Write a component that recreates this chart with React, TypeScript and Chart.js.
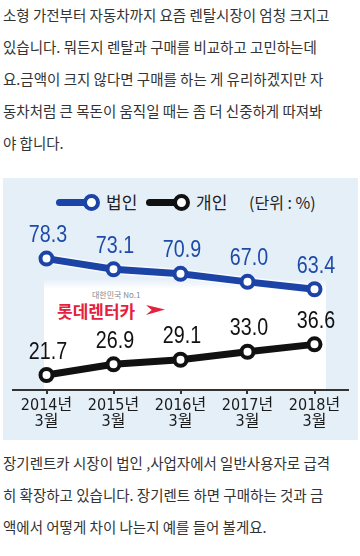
import React, { useEffect, useRef } from 'react';
import { Chart, registerables } from 'chart.js';

Chart.register(...registerables);

const years = ['2014년', '2015년', '2016년', '2017년', '2018년'];
const months = ['3월', '3월', '3월', '3월', '3월'];
const corporate = [78.3, 73.1, 70.9, 67.0, 63.4];
const individual = [21.7, 26.9, 29.1, 33.0, 36.6];
const seriesNames = ['법인', '개인'];
const unitLabel = '(단위 : %)';
const logoSub = '대한민국 No.1';
const logoMain = '롯데렌터카';

const topParagraph = [
  '소형 가전부터 자동차까지 요즘 렌탈시장이 엄청 크지고',
  '있습니다. 뭐든지 렌탈과 구매를 비교하고 고민하는데',
  '요.금액이 크지 않다면 구매를 하는 게 유리하겠지만 자',
  '동차처럼 큰 목돈이 움직일 때는 좀 더 신중하게 따져봐',
  '야 합니다.',
];
const bottomParagraph = [
  '장기렌트카 시장이 법인 ,사업자에서 일반사용자로 급격',
  '히 확장하고 있습니다. 장기렌트 하면 구매하는 것과 금',
  '액에서 어떻게 차이 나는지 예를 들어 볼게요.',
];

const BLUE = '#1c43a6';
const BLUE_LABEL = '#1f4ba8';
const BLACK = '#111111';
const BOX_BG = '#e5eff8';
const KR = '"Noto Sans CJK KR", "Noto Sans", sans-serif';
const NARROW = '"Liberation Sans Narrow", "DejaVu Sans Condensed", "Liberation Sans", "Noto Sans CJK KR", sans-serif';

const haloLines = {
  id: 'haloLines',
  beforeDatasetsDraw(chart: any) {
    const ctx = chart.ctx;
    chart.data.datasets.forEach((_ds: any, i: number) => {
      const pts = chart.getDatasetMeta(i).data;
      ctx.save();
      ctx.strokeStyle = 'rgba(255,255,255,0.7)';
      ctx.lineWidth = 10;
      ctx.lineJoin = 'round';
      ctx.beginPath();
      pts.forEach((p: any, j: number) => (j ? ctx.lineTo(p.x, p.y) : ctx.moveTo(p.x, p.y)));
      ctx.stroke();
      ctx.restore();
    });
  },
};

const valueLabels = {
  id: 'valueLabels',
  afterDatasetsDraw(chart: any) {
    const ctx = chart.ctx;
    chart.data.datasets.forEach((ds: any, i: number) => {
      const meta = chart.getDatasetMeta(i);
      meta.data.forEach((pt: any, j: number) => {
        ctx.save();
        ctx.translate(pt.x + 1.5, pt.y - 23);
        ctx.scale(0.82, 1);
        ctx.font = '24px "Liberation Sans", Arial, sans-serif';
        ctx.fillStyle = ds.labelColor;
        ctx.textAlign = 'center';
        ctx.textBaseline = 'middle';
        ctx.fillText(Number(ds.data[j]).toFixed(1), 0, 0);
        ctx.restore();
      });
    });
  },
};

function LegendItem({ color, x, text }: { color: string; x: number; text: string }) {
  return (
    <>
      <div style={{ position: 'absolute', left: x, top: 198.5, width: 36, height: 7, borderRadius: 4, background: color }} />
      <div style={{ position: 'absolute', left: x + 27, top: 193.5, width: 9, height: 9, border: `4px solid ${color}`, borderRadius: '50%', background: '#fff' }} />
      <div style={{ position: 'absolute', left: x + 50, top: 190, height: 24, lineHeight: '24px', fontSize: 17, fontFamily: KR, color: '#222', whiteSpace: 'nowrap' }}>{text}</div>
    </>
  );
}

export default function App() {
  const canvasRef = useRef<HTMLCanvasElement | null>(null);

  useEffect(() => {
    document.body.style.margin = '0';
    const canvas = canvasRef.current;
    if (!canvas) return;
    const chart = new Chart(canvas, {
      type: 'line',
      data: {
        labels: years.map((y, i) => [y, months[i]]),
        datasets: [
          {
            label: seriesNames[0],
            data: corporate,
            borderColor: BLUE,
            borderWidth: 7,
            pointRadius: 6,
            pointBorderWidth: 4,
            pointBackgroundColor: '#ffffff',
            pointBorderColor: BLUE,
            tension: 0,
            labelColor: BLUE_LABEL,
          } as any,
          {
            label: seriesNames[1],
            data: individual,
            borderColor: BLACK,
            borderWidth: 7,
            pointRadius: 6,
            pointBorderWidth: 4,
            pointBackgroundColor: '#ffffff',
            pointBorderColor: BLACK,
            tension: 0,
            labelColor: BLACK,
          } as any,
        ],
      },
      options: {
        animation: false,
        responsive: false,
        devicePixelRatio: 1,
        layout: { padding: { left: 5.4, right: 3.4, top: 36, bottom: 0 } },
        plugins: { legend: { display: false }, tooltip: { enabled: false } },
        scales: {
          x: {
            type: 'category',
            offset: true,
            grid: { display: true, drawOnChartArea: false, drawTicks: true, tickLength: 4, color: '#333', lineWidth: 2 },
            border: { display: true, color: '#333', width: 2 },
            ticks: { color: '#1a1a1a', padding: 4, maxRotation: 0, font: { family: NARROW, size: 16, lineHeight: 1.0 } },
            afterFit: (scale: any) => { scale.height = 50; },
          },
          y: { display: false, min: 14.4, max: 100 },
        },
      },
      plugins: [haloLines, valueLabels],
    });
    return () => chart.destroy();
  }, []);

  return (
    <div style={{ position: 'relative', width: 360, height: 556, background: '#fff', overflow: 'hidden', fontFamily: KR }}>
      <div style={{ position: 'absolute', left: 3, top: -1, fontSize: 14.5, lineHeight: '32px', color: '#333' }}>
        {topParagraph.map((t, i) => (
          <div key={i} style={{ whiteSpace: 'nowrap' }}>{t}</div>
        ))}
      </div>

      <div style={{ position: 'absolute', left: 3, top: 178, width: 355, height: 262, background: BOX_BG }} />
      <div style={{ position: 'absolute', left: 44, top: 279, width: 282, height: 111, background: 'linear-gradient(to bottom, rgba(255,255,255,0) 0px, #ffffff 10px)' }} />
      <div style={{ position: 'absolute', left: 92, top: 290, fontSize: 8, lineHeight: '10px', color: '#888', whiteSpace: 'nowrap' }}>{logoSub}</div>
      <div style={{ position: 'absolute', left: 57, top: 300, fontSize: 17, fontWeight: 700, lineHeight: '22px', color: '#e5213d', whiteSpace: 'nowrap' }}>{logoMain}</div>
      <div style={{ position: 'absolute', left: 146, top: 305, width: 19, height: 10, background: '#e5213d', clipPath: 'polygon(0 0, 100% 45%, 0 100%, 30% 50%)' }} />

      <LegendItem color={BLUE} x={56} text={seriesNames[0]} />
      <LegendItem color={BLACK} x={146} text={seriesNames[1]} />
      <div style={{ position: 'absolute', left: 249, top: 190, height: 24, lineHeight: '24px', fontSize: 16, color: '#222', whiteSpace: 'nowrap' }}>{unitLabel}</div>

      <canvas ref={canvasRef} width={355} height={262} style={{ position: 'absolute', left: 3, top: 178, width: 355, height: 262 }} />

      <div style={{ position: 'absolute', left: 3, top: 447, fontSize: 14.5, lineHeight: '32px', color: '#333' }}>
        {bottomParagraph.map((t, i) => (
          <div key={i} style={{ whiteSpace: 'nowrap' }}>{t}</div>
        ))}
      </div>
    </div>
  );
}
